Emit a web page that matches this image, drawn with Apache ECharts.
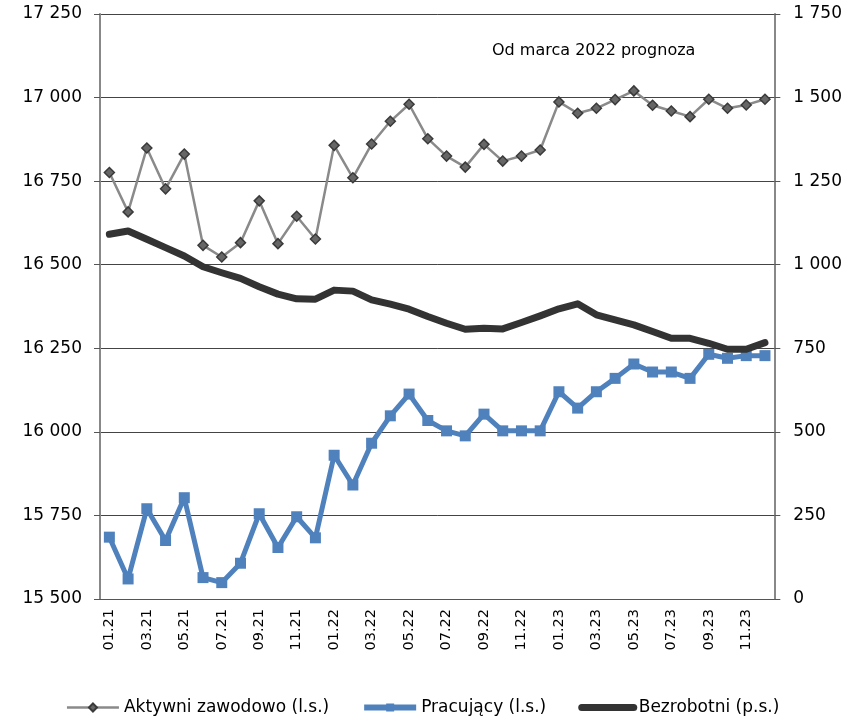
<!DOCTYPE html>
<html>
<head>
<meta charset="utf-8">
<script src="https://cdn.jsdelivr.net/npm/echarts@6/dist/echarts.min.js"></script>
<style>html,body{margin:0;padding:0;background:#fff;}#c{width:845px;height:717px;}</style>
</head>
<body>
<div id="c"></div>
<script>
var categories = ['01.21','02.21','03.21','04.21','05.21','06.21','07.21','08.21','09.21','10.21','11.21','12.21',
'01.22','02.22','03.22','04.22','05.22','06.22','07.22','08.22','09.22','10.22','11.22','12.22',
'01.23','02.23','03.23','04.23','05.23','06.23','07.23','08.23','09.23','10.23','11.23','12.23'];
var aktywni = [16776,16658,16849,16727,16831,16558,16523,16566,16691,16563,16645,16577,
16857,16760,16861,16929,16980,16877,16825,16792,16860,16810,16825,16843,
16987,16953,16968,16994,17020,16977,16960,16943,16995,16968,16978,16995];
var pracujacy = [15685,15560,15770,15675,15803,15564,15549,15607,15755,15654,15746,15683,
15930,15841,15966,16048,16113,16034,16003,15988,16053,16003,16003,16003,
16120,16071,16120,16160,16203,16179,16179,16160,16232,16220,16228,16228];
var bezrobotni = [1091,1101,1076,1051,1026,994,976,959,934,912,898,897,
924,921,895,882,867,845,825,807,810,808,827,847,
868,883,850,835,820,800,780,780,765,747,747,767];
var annotation = 'Od marca 2022 prognoza';

function fmt(v){ return String(v).replace(/\B(?=(\d{3})+(?!\d))/g,' '); }
var FONT = 'DejaVu Sans';
var chart = echarts.init(document.getElementById('c'));
chart.setOption({
  animation:false,
  backgroundColor:'#fff',
  textStyle:{fontFamily:FONT},
  title:{text:annotation,left:487,top:38,textStyle:{fontFamily:FONT,fontSize:16,fontWeight:'normal',color:'#000'}},
  grid:{left:100,right:69,top:14,bottom:118},
  legend:{top:694,left:'center',itemWidth:52,itemHeight:10,itemGap:32,
    textStyle:{fontFamily:FONT,fontSize:17,color:'#000'},
    data:[
      {name:'Aktywni zawodowo (l.s.)',lineStyle:{width:2.5,color:'#8a8a8a'}},
      {name:'Pracujący (l.s.)',lineStyle:{width:6,color:'#4f81bd'}},
      {name:'Bezrobotni (p.s.)',lineStyle:{width:7,color:'#333',cap:'round'},itemStyle:{opacity:0}}
    ]},
  xAxis:{type:'category',data:categories,boundaryGap:true,
    axisLine:{lineStyle:{color:'#555',width:1}},
    axisTick:{interval:1,length:5,lineStyle:{color:'#555'}},
    axisLabel:{interval:1,rotate:90,fontFamily:FONT,fontSize:14.5,color:'#000',margin:10}},
  yAxis:[
    {type:'value',min:15500,max:17250,interval:250,
     axisLine:{show:true,lineStyle:{color:'#888',width:2}},
     axisTick:{show:true,length:6,lineStyle:{color:'#555'}},
     splitLine:{lineStyle:{color:'#444',width:1}},
     axisLabel:{formatter:fmt,fontFamily:FONT,fontSize:17,color:'#000',margin:18}},
    {type:'value',min:0,max:1750,interval:250,position:'right',
     axisLine:{show:true,lineStyle:{color:'#888',width:2}},
     axisTick:{show:true,length:6,lineStyle:{color:'#555'}},
     splitLine:{show:false},
     axisLabel:{formatter:fmt,fontFamily:FONT,fontSize:17,color:'#000',margin:19}}
  ],
  series:[
    {name:'Aktywni zawodowo (l.s.)',type:'line',yAxisIndex:0,data:aktywni,
     lineStyle:{color:'#8a8a8a',width:2.5},
     itemStyle:{color:'#666',borderColor:'#3a3a3a',borderWidth:1.5},
     symbol:'diamond',symbolSize:10,z:3},
    {name:'Pracujący (l.s.)',type:'line',yAxisIndex:0,data:pracujacy,
     lineStyle:{color:'#4f81bd',width:5},
     itemStyle:{color:'#4f81bd'},
     symbol:'rect',symbolSize:11,z:2},
    {name:'Bezrobotni (p.s.)',type:'line',yAxisIndex:1,data:bezrobotni,
     lineStyle:{color:'#333',width:7,cap:'round',join:'round'},
     itemStyle:{color:'#333'},
     symbol:'none',z:4}
  ]
});
</script>
</body>
</html>
